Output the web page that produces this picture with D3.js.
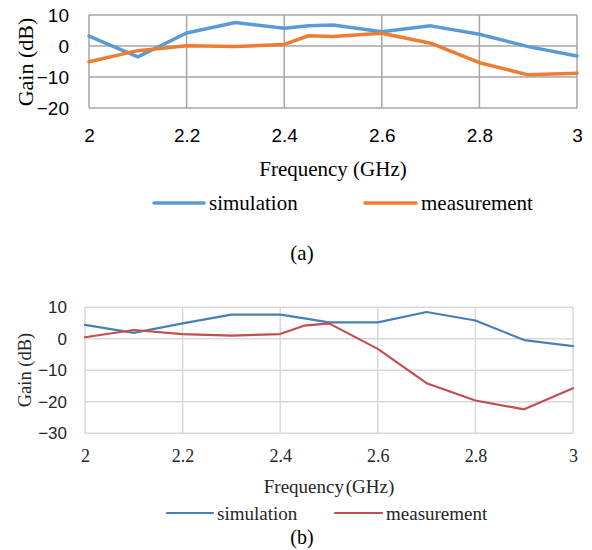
<!DOCTYPE html>
<html><head><meta charset="utf-8">
<script src="https://cdn.jsdelivr.net/npm/d3@7"></script>
<style>body{margin:0;background:#fff;}svg{display:block;}
.serif{font-family:"Liberation Serif","DejaVu Serif","Times New Roman",serif;}
.sans{font-family:"Liberation Sans",Arial,sans-serif;}
</style>
</head><body>
<svg id="c" width="592" height="550"></svg>
<script>
// Shared frequency points (GHz)
const freqs = [2.0, 2.1, 2.2, 2.3, 2.4, 2.45, 2.5, 2.6, 2.7, 2.8, 2.9, 3.0];
// Chart (a)
const simA  = [3.2, -3.5, 4.2, 7.6, 5.7, 6.5, 6.8, 4.6, 6.5, 3.8, -0.2, -3.2];
const measA = [-5.1, -1.5, 0.1, -0.2, 0.5, 3.3, 3.1, 4.1, 0.9, -5.4, -9.3, -8.8];
// Chart (b)
const simB  = [4.4, 1.9, 4.9, 7.7, 7.7, 6.5, 5.2, 5.2, 8.5, 5.8, -0.4, -2.3];
const measB = [0.5, 2.8, 1.5, 1.0, 1.5, 4.2, 4.9, -3.2, -14.1, -19.6, -22.4, -15.7];
const xTicks = [2, 2.2, 2.4, 2.6, 2.8, 3];
const yTicksA = [10, 0, -10, -20];
const yTicksB = [10, 0, -10, -20, -30];
const seriesNames = ["simulation", "measurement"];

const svg = d3.select("#c");

function drawChart(cfg) {
  const g = svg.append("g");
  const x = d3.scaleLinear().domain([2, 3]).range([cfg.left, cfg.right]);
  const y = d3.scaleLinear().domain(cfg.yDomain).range([cfg.bottom, cfg.top]);
  g.selectAll(".hg").data(cfg.yTicks).join("line")
    .attr("x1", cfg.left).attr("x2", cfg.right)
    .attr("y1", d => y(d)).attr("y2", d => y(d))
    .attr("stroke", cfg.gridColor).attr("stroke-width", cfg.gridW);
  g.selectAll(".vg").data(xTicks).join("line")
    .attr("y1", cfg.top).attr("y2", cfg.bottom)
    .attr("x1", d => x(d)).attr("x2", d => x(d))
    .attr("stroke", cfg.gridColor).attr("stroke-width", cfg.gridW);
  const ya = g.append("g").attr("transform", `translate(${cfg.left},0)`)
    .call(d3.axisLeft(y).tickValues(cfg.yTicks).tickSize(0).tickPadding(cfg.yPad).tickFormat(d3.format("d")));
  ya.select(".domain").remove();
  ya.attr("font-family", null).attr("font-size", null);
  ya.selectAll("text").attr("class", cfg.yFont).style("font-size", cfg.yFontSize + "px").attr("fill", cfg.tickColor);
  const xa = g.append("g").attr("transform", `translate(0,${cfg.bottom})`)
    .call(d3.axisBottom(x).tickValues(xTicks).tickSize(0).tickPadding(cfg.xPad).tickFormat(d => String(d)));
  xa.select(".domain").remove();
  xa.attr("font-family", null).attr("font-size", null);
  xa.selectAll("text").attr("class", cfg.xFont).style("font-size", cfg.xFontSize + "px").attr("fill", cfg.tickColor);
  const line = d3.line().x((d, i) => x(freqs[i])).y(d => y(d));
  [cfg.sim, cfg.meas].forEach((s, k) => {
    g.append("path").datum(s).attr("d", line).attr("fill", "none")
      .attr("stroke", cfg.colors[k]).attr("stroke-width", cfg.lineW)
      .attr("stroke-linejoin", "round").attr("stroke-linecap", "round");
  });
  g.append("text").attr("class", "serif").attr("transform", `translate(${cfg.yTitleX},${cfg.yTitleY}) rotate(-90)`)
    .attr("text-anchor", "middle").attr("dominant-baseline", "central")
    .style("font-size", cfg.yTitleSize + "px").attr("fill", cfg.titleColor)
    .text("Gain (dB)");
  g.append("text").attr("class", "serif").attr("x", (cfg.left + cfg.right) / 2).attr("y", cfg.xTitleY)
    .attr("text-anchor", "middle")
    .style("font-size", cfg.titleSize + "px").attr("fill", cfg.titleColor).attr("word-spacing", cfg.xTitleWS)
    .text("Frequency (GHz)");
  cfg.legend.forEach((L, k) => {
    g.append("line").attr("x1", L.x1).attr("x2", L.x2).attr("y1", cfg.legendY).attr("y2", cfg.legendY)
      .attr("stroke", cfg.colors[k]).attr("stroke-width", cfg.lineW).attr("stroke-linecap", "round");
    g.append("text").attr("class", "serif").attr("x", L.x2 + cfg.legendGap).attr("y", cfg.legendY).attr("dominant-baseline", "central")
      .style("font-size", cfg.legendSize + "px").attr("fill", cfg.titleColor)
      .text(seriesNames[k]);
  });
  g.append("text").attr("class", "serif").attr("x", 302).attr("y", cfg.capY).attr("text-anchor", "middle")
    .style("font-size", cfg.capSize + "px").attr("fill", "#000")
    .text(cfg.caption);
}

drawChart({
  left: 89, right: 577, top: 15, bottom: 108, yDomain: [-20, 10], yTicks: yTicksA,
  gridColor: "#a6a6a6", gridW: 1.5, yPad: 20, xPad: 21,
  yFont: "sans", yFontSize: 19, xFont: "sans", xFontSize: 19, tickColor: "#000",
  sim: simA, meas: measA, colors: ["#5B9BD5", "#ED7D31"], lineW: 3.5,
  yTitleX: 25, yTitleY: 62, yTitleSize: 22, titleSize: 21, titleColor: "#000", xTitleY: 176, xTitleWS: 0,
  legendY: 203, legend: [{x1: 154, x2: 204}, {x1: 365, x2: 416}], legendGap: 5, legendSize: 21,
  capY: 260, capSize: 21, caption: "(a)"
});

drawChart({
  left: 85, right: 573, top: 307.3, bottom: 433.3, yDomain: [-30, 10], yTicks: yTicksB,
  gridColor: "#d9d9d9", gridW: 1.5, yPad: 18, xPad: 16,
  yFont: "sans", yFontSize: 17, xFont: "serif", xFontSize: 18, tickColor: "#262626",
  sim: simB, meas: measB, colors: ["#4A7EBB", "#C0504D"], lineW: 2.2,
  yTitleX: 25, yTitleY: 370, yTitleSize: 18.5, titleSize: 19, titleColor: "#262626", xTitleY: 493, xTitleWS: -3,
  legendY: 513, legend: [{x1: 167, x2: 213}, {x1: 335, x2: 382}], legendGap: 4, legendSize: 19,
  capY: 544, capSize: 20, caption: "(b)"
});
</script>
</body></html>
